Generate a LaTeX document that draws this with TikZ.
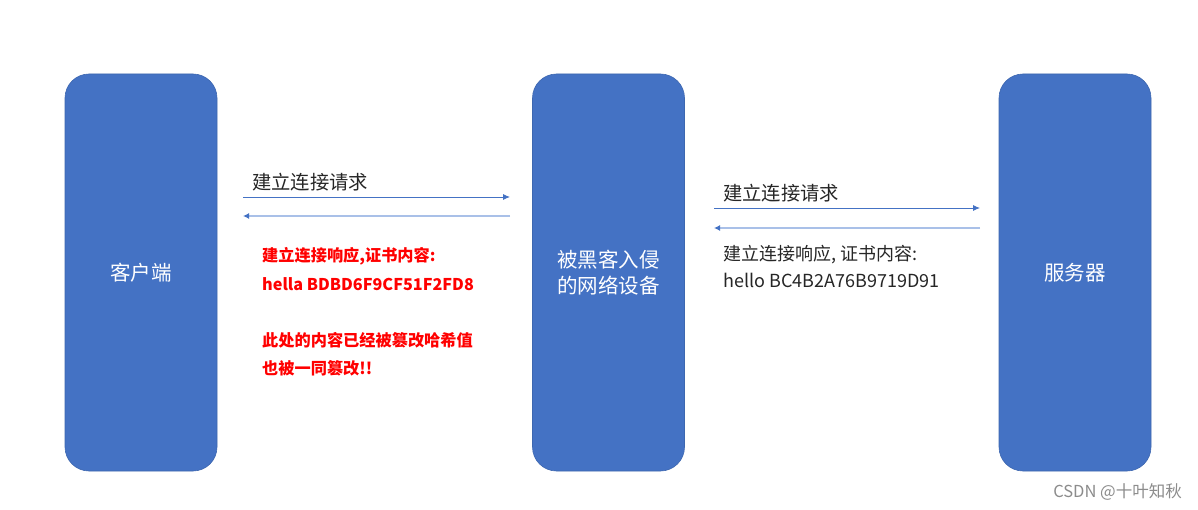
\documentclass[tikz,border=0pt]{standalone}
\usepackage{fontspec}
\setmainfont{Noto Sans CJK SC}
\usetikzlibrary{arrows.meta}
\definecolor{boxblue}{HTML}{4472C4}
\definecolor{lightblue}{HTML}{A9C0E8}
\definecolor{txtgray}{HTML}{262626}
\begin{document}
\begin{tikzpicture}[x=1pt,y=-1pt,
  hostbox/.style={fill=boxblue,draw=boxblue!90!black,line width=0.6pt,rounded corners=24pt,minimum width=152pt,minimum height=397pt,inner sep=0pt,text=white,font=\fontsize{20.5}{26}\selectfont,align=center},
  reqarrow/.style={draw=boxblue,line width=0.9pt,-{Latex[length=7pt,width=6pt]}},
  resarrow/.style={draw=lightblue,line width=2pt,-{Latex[length=6pt,width=6pt,color=boxblue]}},
  lbl/.style={anchor=west,inner sep=0pt,text=txtgray,font=\fontsize{19.3}{22}\selectfont},
  redlbl/.style={anchor=west,inner sep=0pt,text=red,font=\fontsize{16.2}{18}\selectfont\bfseries},
  graylbl/.style={anchor=west,inner sep=0pt,text=txtgray,font=\fontsize{18}{20}\selectfont}
]
\useasboundingbox (0,0) rectangle (1198,510);
\fill[white] (0,0) rectangle (1198,510);
\node[hostbox] (client) at (141,272.5) {客户端};
\node[hostbox] (mitm) at (608.5,272.5) {被黑客入侵\\的网络设备};
\node[hostbox] (server) at (1075,272.5) {服务器};

\coordinate (a1s) at (243,197); \coordinate (a1e) at (510,197);
\coordinate (a2s) at (510,216); \coordinate (a2e) at (243,216);
\coordinate (b1s) at (714,208); \coordinate (b1e) at (980,208);
\coordinate (b2s) at (980,228); \coordinate (b2e) at (714,228);
\draw[reqarrow] (a1s) -- (a1e);
\draw[resarrow] (a2s) -- (a2e);
\draw[reqarrow] (b1s) -- (b1e);
\draw[resarrow] (b2s) -- (b2e);

\node[lbl] (l1) at (252,182) {建立连接请求};
\node[lbl] (l2) at (723,193) {建立连接请求};
\node[redlbl] (r1) at (262,256) {建立连接响应,证书内容:};
\node[redlbl] (r2) at (262,284) {hella BDBD6F9CF51F2FD8};
\node[redlbl] (r3) at (262,340) {此处的内容已经被篡改哈希值};
\node[redlbl] (r4) at (262,368) {也被一同篡改!!};
\node[graylbl] (g1) at (723,255) {建立连接响应, 证书内容:};
\node[graylbl] (g2) at (723,280) {hello BC4B2A76B9719D91};
\node[anchor=east,inner sep=0pt,text=black!45,font=\fontsize{16.5}{18}\selectfont] (wm) at (1182,492) {CSDN @十叶知秋};
\end{tikzpicture}
\end{document}
